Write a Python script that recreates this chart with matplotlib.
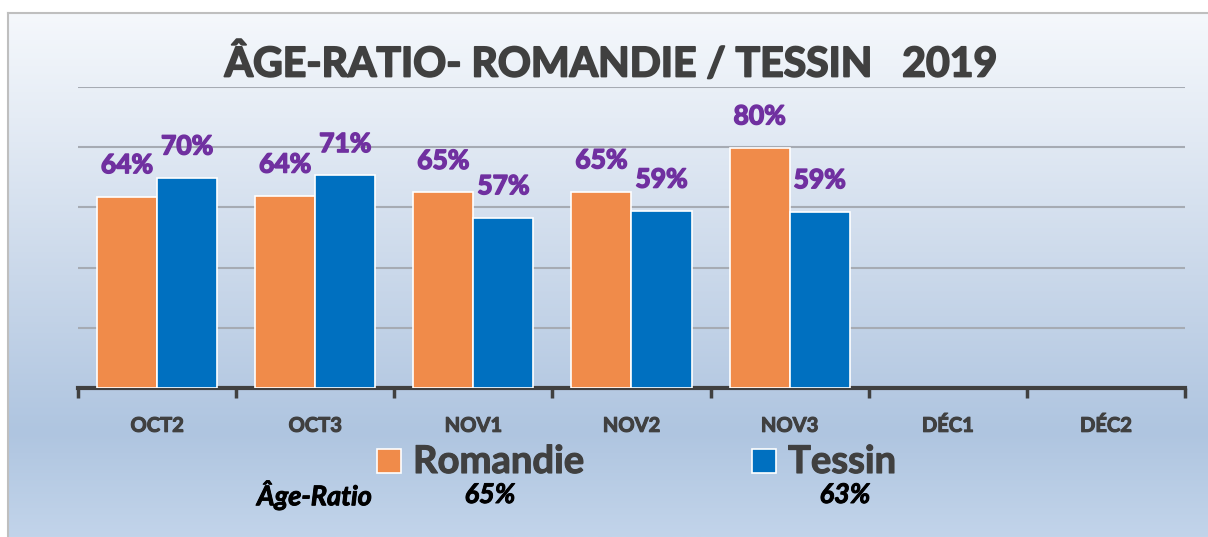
import numpy as np
import matplotlib
matplotlib.use("Agg")
import matplotlib.pyplot as plt
import matplotlib.patheffects as pe
from matplotlib.colors import LinearSegmentedColormap
from matplotlib.patches import Rectangle
from matplotlib.lines import Line2D

plt.rcParams["font.family"] = ["Lato", "DejaVu Sans"]

# data
categories = ["OCT2", "OCT3", "NOV1", "NOV2", "NOV3", "DÉC1", "DÉC2"]
romandie = [63.6, 63.8, 65.0, 65.2, 79.8]
tessin = [69.8, 70.6, 56.6, 58.8, 58.6]
series_names = ["Romandie", "Tessin"]
ratio_label = "Âge-Ratio"
ratio_values = ["65%", "63%"]
title = "ÂGE-RATIO- ROMANDIE / TESSIN   2019"

ORANGE = "#F08B4A"
BLUE = "#0070C0"
PURPLE = "#7030A0"
DARK = "#404040"


def thick(color, lw=1.0):
    # fake a heavier weight, close to Calibri Bold
    return [pe.withStroke(linewidth=lw, foreground=color)]


W, H = 1208, 537
fig = plt.figure(figsize=(W / 100, H / 100), dpi=100)


def fx(px):
    return px / W


def fy(py):
    return 1 - py / H


# gradient background inside the chart frame
bg = fig.add_axes([fx(8), 0, 1 - fx(8), fy(13)], zorder=-5)
grad = LinearSegmentedColormap.from_list(
    "bg",
    [(0.0, "#F5F8FC"), (0.2, "#E5ECF5"), (0.5, "#CAD8EA"),
     (0.8, "#AFC5E0"), (1.0, "#C2D4EA")],
)
bg.imshow(np.linspace(0, 1, 256).reshape(-1, 1), aspect="auto", cmap=grad,
          extent=[0, 1, 0, 1])
bg.set_axis_off()
fig.add_artist(Line2D([fx(8), fx(8)], [0, fy(13)], color="#BFBFBF", lw=1.5))
fig.add_artist(Line2D([fx(8), 1], [fy(13), fy(13)], color="#BFBFBF", lw=1.5))

# plot area
ax = fig.add_axes([fx(78), fy(388), fx(1185) - fx(78), fy(87) - fy(388)])
ax.patch.set_alpha(0)
x = np.arange(len(categories))
bw = 0.38
n = len(romandie)
b1 = ax.bar(x[:n] - bw / 2, romandie, bw, color=ORANGE, edgecolor="white",
            linewidth=1.2, zorder=3)
b2 = ax.bar(x[:n] + bw / 2, tessin, bw, color=BLUE, edgecolor="white",
            linewidth=1.2, zorder=3)
for bars in (b1, b2):
    labels = ax.bar_label(bars, labels=[f"{round(b.get_height())}%" for b in bars],
                          padding=14, color=PURPLE, fontsize=19, fontweight="bold")
    for t in labels:
        t.set_path_effects(thick(PURPLE, 1.1))

ax.set_xlim(-0.5, len(categories) - 0.5)
ax.set_ylim(0, 100)
ax.set_yticks(np.arange(20, 101, 20))
ax.yaxis.grid(True, color="#A6ABB3", lw=1.5, zorder=0)
ax.tick_params(axis="y", length=0, labelleft=False)
ax.set_xticks(x)
ax.set_xticklabels(categories, color=DARK, fontsize=14.5, fontweight="bold")
for lab in ax.get_xticklabels():
    lab.set_path_effects(thick(DARK, 0.8))
ax.tick_params(axis="x", length=0, pad=20)
ax.set_xticks(np.arange(-0.5, len(categories), 1), minor=True)
ax.tick_params(axis="x", which="minor", length=7, width=2.5, color=DARK)
for side in ("left", "right", "top"):
    ax.spines[side].set_visible(False)
ax.spines["bottom"].set_color(DARK)
ax.spines["bottom"].set_linewidth(3)

fig.text(fx(611), fy(64), title, ha="center", va="center", fontsize=29.5,
         fontweight="bold", color=DARK, path_effects=thick(DARK, 1.3))

# legend
for px, color, name in ((377, ORANGE, series_names[0]), (752, BLUE, series_names[1])):
    fig.add_artist(Rectangle((fx(px), fy(473)), fx(24), fy(449) - fy(473),
                             facecolor=color, edgecolor="white", lw=1.2,
                             transform=fig.transFigure))
    fig.text(fx(px + 36), fy(462), name, ha="left", va="center", fontsize=27.5,
             fontweight="bold", color=DARK, path_effects=thick(DARK, 0.8))

fig.text(fx(257), fy(495), ratio_label, ha="left", va="center", fontsize=19.5,
         fontweight="bold", fontstyle="italic", color="black",
         path_effects=thick("black", 0.7))
for px, val in zip((490, 845), ratio_values):
    fig.text(fx(px), fy(495), val, ha="center", va="center", fontsize=19.5,
             fontweight="bold", fontstyle="italic", color="black",
             path_effects=thick("black", 0.7))

fig.savefig("out.png", dpi=100)
